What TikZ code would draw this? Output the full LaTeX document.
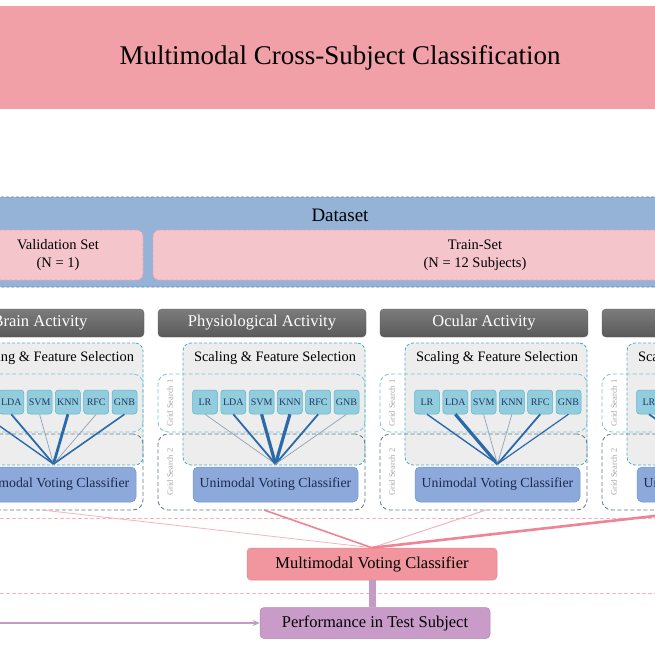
\documentclass[tikz,border=0pt]{standalone}
\usepackage{fontspec}
\setmainfont{Liberation Serif}
\usetikzlibrary{calc,arrows.meta}
\definecolor{titlepink}{HTML}{F1A0A8}
\definecolor{dsblue}{HTML}{95B3D7}
\definecolor{dsborder}{HTML}{5A7FB5}
\definecolor{setpink}{HTML}{F5C5CC}
\definecolor{setborder}{HTML}{E9A0AD}
\definecolor{hdrtop}{HTML}{7C7C7C}
\definecolor{hdrbot}{HTML}{5A5A5A}
\definecolor{sfsfill}{HTML}{EDEDED}
\definecolor{mteal}{HTML}{4BACC6}
\definecolor{gsonecol}{HTML}{7CC3D4}
\definecolor{gstwocol}{HTML}{62788A}
\definecolor{clffill}{HTML}{93CDDD}
\definecolor{clfborder}{HTML}{5AB4CC}
\definecolor{clftext}{HTML}{1F3864}
\definecolor{unifill}{HTML}{8DA9DB}
\definecolor{uniborder}{HTML}{7394CC}
\definecolor{unitext}{HTML}{1C2A4A}
\definecolor{lined}{HTML}{2A6AAA}
\definecolor{linel}{HTML}{8EA2B6}
\definecolor{mmfill}{HTML}{F1959F}
\definecolor{mmborder}{HTML}{E8858F}
\definecolor{pinkd}{HTML}{EE8494}
\definecolor{pinkl}{HTML}{F4B4BE}
\definecolor{perffill}{HTML}{C99BC9}
\definecolor{perfborder}{HTML}{B787B7}
\definecolor{perfline}{HTML}{C49AC6}
\definecolor{gstxt}{HTML}{A8A8A8}
\begin{document}
\begin{tikzpicture}[x=1pt,y=-1pt,
  dsh/.style={dash pattern=on 3pt off 2pt},
  hdrbox/.style={rounded corners=4pt, top color=hdrtop, bottom color=hdrbot, draw=hdrbot, line width=0.4pt,
    text=white, font=\fontsize{16.5}{19}\selectfont, minimum width=208pt, minimum height=28pt, inner sep=0pt},
  sfsbox/.style={rounded corners=8pt, fill=sfsfill, draw=mteal, dsh, line width=0.8pt,
    minimum width=182pt, minimum height=122pt, inner sep=0pt},
  gsone/.style={rounded corners=10pt, draw=gsonecol, dash pattern=on 4pt off 2.5pt, line width=0.8pt,
    minimum width=207pt, minimum height=58pt, inner sep=0pt},
  gstwo/.style={rounded corners=10pt, draw=gstwocol, dash pattern=on 4pt off 2.5pt, line width=0.8pt,
    minimum width=207pt, minimum height=76pt, inner sep=0pt},
  gstext/.style={rotate=90, text=gstxt, font=\fontsize{8.5}{10}\selectfont, inner sep=0pt},
  clfbox/.style={rounded corners=3pt, fill=clffill, draw=clfborder, line width=0.5pt,
    minimum width=25pt, minimum height=24pt, inner sep=0pt, font=\fontsize{10}{11}\selectfont, text=clftext},
  unibox/.style={rounded corners=5pt, fill=unifill, draw=uniborder, line width=0.5pt,
    minimum width=165pt, minimum height=35pt, inner sep=0pt, font=\fontsize{13.8}{16}\selectfont, text=unitext},
  setbox/.style={rounded corners=6pt, fill=setpink, draw=setborder, dsh, line width=0.7pt,
    minimum height=50pt, inner sep=0pt, align=center, font=\fontsize{14.5}{18}\selectfont},
  mmbox/.style={rounded corners=4pt, fill=mmfill, draw=mmborder, line width=0.5pt,
    minimum width=250pt, minimum height=32pt, inner sep=0pt, font=\fontsize{16.5}{19}\selectfont},
  perfbox/.style={rounded corners=4pt, fill=perffill, draw=perfborder, line width=0.5pt,
    minimum width=230pt, minimum height=31pt, inner sep=0pt, font=\fontsize{16.5}{19}\selectfont},
  sep/.style={draw=pinkl, dash pattern=on 4pt off 2pt, line width=0.6pt}
]
\useasboundingbox (0,0) rectangle (655,655);
\clip (0,0) rectangle (655,655);
\fill[white] (0,0) rectangle (655,655);

% title band
\fill[titlepink] (0,6) rectangle (655,109);
\node[font=\fontsize{27}{32}\selectfont, inner sep=0pt] (title) at (340,58) {Multimodal Cross-Subject Classification};

% dataset
\node[fill=dsblue, draw=dsborder, dsh, line width=0.8pt, rounded corners=6pt,
      minimum width=760pt, minimum height=90pt, inner sep=0pt] (dataset) at (330,242) {};
\node[font=\fontsize{19}{22}\selectfont, inner sep=0pt] (dstext) at (340,215) {Dataset};
\node[setbox, minimum width=170pt] (val) at (58,255) {Validation Set\\(N = 1)};
\node[setbox, minimum width=644pt] (train) at (475,255) {Train-Set\\(N = 12 Subjects)};

% columns
\foreach \c/\off/\hdr/\wlist in {
  1/-222/{Brain Activity}/{1.4/d,1.8/d,0.7/l,2.8/d,0.7/l,1.6/d},
  2/0/{Physiological Activity}/{0.7/l,1.8/d,3.2/d,3.2/d,1.8/d,0.7/l},
  3/222/{Ocular Activity}/{1.4/d,3.2/d,0.7/l,0.7/l,1.8/d,1.2/d},
  4/444/{}/{1.8/d,1.2/d,1.2/d,1.2/d,1.2/d,1.2/d}} {
  \node[hdrbox] (hdr-\c) at ({262+\off},323) {\hdr};
  \node[sfsbox] (sfs-\c) at ({274+\off},404) {};
  \node[font=\fontsize{14.4}{17}\selectfont, inner sep=0pt] (sfst-\c) at ({275+\off},358) {Scaling \& Feature Selection};
  \node[gsone] (gsa-\c) at ({261.5+\off},403) {};
  \node[gstwo] (gsb-\c) at ({261.5+\off},472) {};
  \node[gstext] (gsat-\c) at ({170+\off},403) {Grid Search 1};
  \node[gstext] (gsbt-\c) at ({170+\off},472) {Grid Search 2};
  \coordinate (cv-\c) at ({275.5+\off},464);
  \coordinate (uo-\c) at ({264+\off},510);
  \foreach \k/\lab in {0/LR,1/LDA,2/SVM,3/KNN,4/RFC,5/GNB}
    \node[clfbox] (clf-\c-\k) at ({205+28.3*\k+\off},402) {\lab};
  \foreach [count=\k from 0] \w/\lc in \wlist
    \draw[line width=\w pt, draw=line\lc] (clf-\c-\k.south) -- (cv-\c);
  \node[unibox] (uni-\c) at ({275.5+\off},484.5) {Unimodal Voting Classifier};
}

% separators
\draw[sep] (0,518.5) -- (655,518.5);
\draw[sep] (0,593) -- (655,593);

% multimodal
\node[mmbox] (mm) at (372,564) {Multimodal Voting Classifier};
\draw[line width=0.8pt, draw=pinkl] (uo-1) -- (mm.north);
\draw[line width=1.6pt, draw=pinkd] (uo-2) -- (mm.north);
\draw[line width=1.0pt, draw=pinkl] (uo-3) -- (mm.north);
\draw[line width=2.6pt, draw=pinkd] (uo-4) -- (mm.north);

% performance
\node[perfbox] (perf) at (375,623) {Performance in Test Subject};
\draw[line width=7pt, draw=perfline] (mm.south) -- (mm.south |- perf.north);
\coordinate (perfin) at (0,623);
\draw[line width=1.6pt, draw=perfline, -{Stealth[length=7pt,width=6pt]}] (perfin) -- (perf.west);
\end{tikzpicture}
\end{document}
